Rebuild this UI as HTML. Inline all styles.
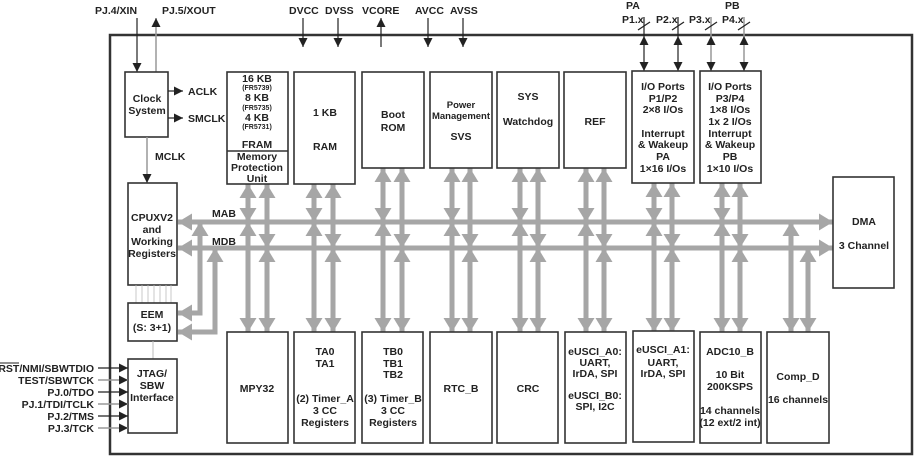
<!DOCTYPE html>
<html><head><meta charset="utf-8"><style>
html,body{margin:0;padding:0;background:#fff;}
svg{display:block;}
text{font-family:"Liberation Sans",Arial,sans-serif;font-weight:bold;font-size:10.5px;fill:#222;}
.s{font-size:7px;}
.c{text-anchor:middle;}
.r{text-anchor:end;}
.b{fill:#fff;stroke:#333;stroke-width:1.6;}
.g{stroke:#a6a6a6;stroke-width:5;fill:none;marker-start:url(#ga);marker-end:url(#ga);}
.k{stroke:#222;stroke-width:1.2;fill:none;}
.kg{stroke:#999;stroke-width:1.5;fill:none;}
</style></head><body>
<svg width="915" height="457" viewBox="0 0 915 457" xmlns="http://www.w3.org/2000/svg">
<defs>
<marker id="ga" markerUnits="userSpaceOnUse" markerWidth="15" markerHeight="18" refX="14" refY="9" orient="auto-start-reverse"><path d="M0,0.5 L14,9 L0,17.5 z" fill="#a6a6a6"/></marker>
<marker id="ka" markerUnits="userSpaceOnUse" markerWidth="10" markerHeight="10" refX="9" refY="5" orient="auto-start-reverse"><path d="M0,0.5 L9,5 L0,9.5 z" fill="#222"/></marker>
</defs>
<rect x="110" y="35" width="802" height="419" fill="none" stroke="#333" stroke-width="2.5"/>

<!-- top pins -->
<text x="95" y="14">PJ.4/XIN</text>
<text x="162" y="14">PJ.5/XOUT</text>
<line class="k" x1="137" y1="18" x2="137" y2="72" marker-end="url(#ka)"/>
<line class="kg" x1="156" y1="72" x2="156" y2="18" marker-end="url(#ka)"/>
<text x="289" y="14">DVCC</text><text x="325" y="14">DVSS</text><text x="362" y="14">VCORE</text><text x="415" y="14">AVCC</text><text x="450" y="14">AVSS</text>
<line class="k" x1="303" y1="18" x2="303" y2="47" marker-end="url(#ka)"/>
<line class="k" x1="338" y1="18" x2="338" y2="47" marker-end="url(#ka)"/>
<line class="k" x1="381" y1="47" x2="381" y2="18" marker-end="url(#ka)"/>
<line class="k" x1="428" y1="18" x2="428" y2="47" marker-end="url(#ka)"/>
<line class="k" x1="463" y1="18" x2="463" y2="47" marker-end="url(#ka)"/>
<text x="626" y="9">PA</text><text x="725" y="9">PB</text>
<text x="622" y="23">P1.x</text><text x="656" y="23">P2.x</text><text x="689" y="23">P3.x</text><text x="722" y="23">P4.x</text>
<line class="k" x1="644" y1="17" x2="644" y2="36"/><line class="k" x1="644" y1="36" x2="644" y2="71" marker-start="url(#ka)" marker-end="url(#ka)"/>
<line class="k" x1="678" y1="17" x2="678" y2="36"/><line class="k" x1="678" y1="36" x2="678" y2="71" marker-start="url(#ka)" marker-end="url(#ka)"/>
<line class="kg" x1="711" y1="17" x2="711" y2="36"/><line class="kg" x1="711" y1="36" x2="711" y2="71" marker-start="url(#ka)" marker-end="url(#ka)"/>
<line class="kg" x1="744" y1="17" x2="744" y2="36"/><line class="kg" x1="744" y1="36" x2="744" y2="71" marker-start="url(#ka)" marker-end="url(#ka)"/>
<g class="k"><line x1="638" y1="30" x2="650" y2="22"/><line x1="672" y1="30" x2="684" y2="22"/><line x1="705" y1="30" x2="717" y2="22"/><line x1="738" y1="30" x2="750" y2="22"/></g>

<!-- clock -->
<rect class="b" x="125" y="72" width="43" height="65"/>
<text class="c" x="147" y="102">Clock</text><text class="c" x="147" y="114">System</text>
<line class="k" x1="168" y1="91" x2="183" y2="91" marker-end="url(#ka)"/><text x="188" y="95">ACLK</text>
<line class="k" x1="168" y1="118" x2="183" y2="118" marker-end="url(#ka)"/><text x="188" y="122">SMCLK</text>
<line class="kg" x1="147" y1="137" x2="147" y2="183" marker-end="url(#ka)"/><text x="155" y="160">MCLK</text>

<!-- buses -->
<line class="g" x1="178" y1="222" x2="833" y2="222"/>
<line class="g" x1="178" y1="248" x2="833" y2="248"/>
<text x="212" y="217">MAB</text><text x="212" y="245">MDB</text>
<path class="g" d="M200,222 V313 H178"/>
<path class="g" d="M215,248 V332 H178"/>

<!-- vertical connectors -->
<g>
<line class="g" x1="248" y1="184" x2="248" y2="222"/><line class="g" x1="248" y1="222" x2="248" y2="332"/>
<line class="g" x1="267" y1="184" x2="267" y2="248"/><line class="g" x1="267" y1="248" x2="267" y2="332"/>
<line class="g" x1="314" y1="184" x2="314" y2="222"/><line class="g" x1="314" y1="222" x2="314" y2="332"/>
<line class="g" x1="333" y1="184" x2="333" y2="248"/><line class="g" x1="333" y1="248" x2="333" y2="332"/>
<line class="g" x1="383" y1="168" x2="383" y2="222"/><line class="g" x1="383" y1="222" x2="383" y2="332"/>
<line class="g" x1="402" y1="168" x2="402" y2="248"/><line class="g" x1="402" y1="248" x2="402" y2="332"/>
<line class="g" x1="452" y1="168" x2="452" y2="222"/><line class="g" x1="452" y1="222" x2="452" y2="332"/>
<line class="g" x1="470" y1="168" x2="470" y2="248"/><line class="g" x1="470" y1="248" x2="470" y2="332"/>
<line class="g" x1="520" y1="168" x2="520" y2="222"/><line class="g" x1="520" y1="222" x2="520" y2="332"/>
<line class="g" x1="538" y1="168" x2="538" y2="248"/><line class="g" x1="538" y1="248" x2="538" y2="332"/>
<line class="g" x1="586" y1="168" x2="586" y2="222"/><line class="g" x1="586" y1="222" x2="586" y2="332"/>
<line class="g" x1="604" y1="168" x2="604" y2="248"/><line class="g" x1="604" y1="248" x2="604" y2="332"/>
<line class="g" x1="654" y1="183" x2="654" y2="222"/><line class="g" x1="654" y1="222" x2="654" y2="332"/>
<line class="g" x1="672" y1="183" x2="672" y2="248"/><line class="g" x1="672" y1="248" x2="672" y2="332"/>
<line class="g" x1="722" y1="183" x2="722" y2="222"/><line class="g" x1="722" y1="222" x2="722" y2="332"/>
<line class="g" x1="740" y1="183" x2="740" y2="248"/><line class="g" x1="740" y1="248" x2="740" y2="332"/>
<line class="g" x1="791" y1="222" x2="791" y2="332"/>
<line class="g" x1="808" y1="248" x2="808" y2="332"/>
</g>

<!-- CPU / EEM / JTAG -->
<rect class="b" x="128" y="183" width="49" height="102"/>
<text class="c" x="152" y="221">CPUXV2</text><text class="c" x="152" y="233">and</text><text class="c" x="152" y="245">Working</text><text class="c" x="152" y="257">Registers</text>
<g stroke="#bbb" stroke-width="0.8"><line x1="136" y1="285" x2="136" y2="303"/><line x1="142" y1="285" x2="142" y2="303"/><line x1="148" y1="285" x2="148" y2="303"/><line x1="154" y1="285" x2="154" y2="303"/><line x1="160" y1="285" x2="160" y2="303"/><line x1="166" y1="285" x2="166" y2="303"/><line x1="171" y1="285" x2="171" y2="303"/></g>
<rect class="b" x="128" y="303" width="49" height="38"/>
<text class="c" x="152" y="318">EEM</text><text class="c" x="152" y="331">(S: 3+1)</text>
<line stroke="#bbb" x1="153" y1="341" x2="153" y2="359"/>
<rect class="b" x="128" y="359" width="49" height="74"/>
<text class="c" x="152" y="377">JTAG/</text><text class="c" x="152" y="389">SBW</text><text class="c" x="152" y="401">Interface</text>
<line class="k" x1="98" y1="368" x2="128" y2="368" marker-end="url(#ka)"/>
<line class="kg" x1="98" y1="380" x2="128" y2="380" marker-end="url(#ka)"/>
<line class="k" x1="98" y1="392" x2="128" y2="392" marker-end="url(#ka)"/>
<line class="kg" x1="98" y1="404" x2="128" y2="404" marker-end="url(#ka)"/>
<line class="k" x1="98" y1="416" x2="128" y2="416" marker-end="url(#ka)"/>
<line class="kg" x1="98" y1="428" x2="128" y2="428" marker-end="url(#ka)"/>
<text class="r" x="94" y="372">RST/NMI/SBWTDIO</text><line stroke="#222" x1="0" y1="363" x2="19" y2="363"/>
<text class="r" x="94" y="384">TEST/SBWTCK</text>
<text class="r" x="94" y="396">PJ.0/TDO</text>
<text class="r" x="94" y="408">PJ.1/TDI/TCLK</text>
<text class="r" x="94" y="420">PJ.2/TMS</text>
<text class="r" x="94" y="432">PJ.3/TCK</text>

<!-- top blocks -->
<rect class="b" x="227" y="72" width="61" height="112"/><line stroke="#333" stroke-width="1.6" x1="227" y1="151" x2="288" y2="151"/>
<text class="c" x="257" y="82">16 KB</text><text class="c s" x="257" y="90">(FR5739)</text>
<text class="c" x="257" y="101">8 KB</text><text class="c s" x="257" y="110">(FR5735)</text>
<text class="c" x="257" y="121">4 KB</text><text class="c s" x="257" y="129">(FR5731)</text>
<text class="c" x="257" y="148">FRAM</text>
<text class="c" x="257" y="160">Memory</text><text class="c" x="257" y="171">Protection</text><text class="c" x="257" y="182">Unit</text>
<rect class="b" x="294" y="72" width="61" height="112"/>
<text class="c" x="325" y="116">1 KB</text><text class="c" x="325" y="150">RAM</text>
<rect class="b" x="362" y="72" width="62" height="96"/>
<text class="c" x="393" y="118">Boot</text><text class="c" x="393" y="131">ROM</text>
<rect class="b" x="430" y="72" width="62" height="96"/>
<text class="c" x="461" y="108" style="font-size:9.5px">Power</text><text class="c" x="461" y="119" style="font-size:9.5px">Management</text><text class="c" x="461" y="140">SVS</text>
<rect class="b" x="497" y="72" width="62" height="96"/>
<text class="c" x="528" y="100">SYS</text><text class="c" x="528" y="125">Watchdog</text>
<rect class="b" x="564" y="72" width="62" height="96"/>
<text class="c" x="595" y="125">REF</text>
<rect class="b" x="632" y="71" width="62" height="112"/>
<text class="c" x="663" y="90">I/O Ports</text><text class="c" x="663" y="102">P1/P2</text><text class="c" x="663" y="113">2×8 I/Os</text>
<text class="c" x="663" y="137">Interrupt</text><text class="c" x="663" y="148">&amp; Wakeup</text><text class="c" x="663" y="160">PA</text><text class="c" x="663" y="172">1×16 I/Os</text>
<rect class="b" x="700" y="71" width="61" height="112"/>
<text class="c" x="730" y="90">I/O Ports</text><text class="c" x="730" y="102">P3/P4</text><text class="c" x="730" y="113">1×8 I/Os</text><text class="c" x="730" y="125">1x 2 I/Os</text>
<text class="c" x="730" y="137">Interrupt</text><text class="c" x="730" y="148">&amp; Wakeup</text><text class="c" x="730" y="160">PB</text><text class="c" x="730" y="172">1×10 I/Os</text>
<rect class="b" x="833" y="177" width="61" height="111"/>
<text class="c" x="864" y="225">DMA</text><text class="c" x="864" y="249">3 Channel</text>

<!-- bottom blocks -->
<rect class="b" x="227" y="332" width="61" height="111"/><text class="c" x="257" y="392">MPY32</text>
<rect class="b" x="294" y="332" width="61" height="111"/>
<text class="c" x="325" y="355">TA0</text><text class="c" x="325" y="367">TA1</text><text class="c" x="325" y="402">(2) Timer_A</text><text class="c" x="325" y="414">3 CC</text><text class="c" x="325" y="426">Registers</text>
<rect class="b" x="362" y="332" width="61" height="111"/>
<text class="c" x="393" y="355">TB0</text><text class="c" x="393" y="367">TB1</text><text class="c" x="393" y="378">TB2</text><text class="c" x="393" y="402">(3) Timer_B</text><text class="c" x="393" y="414">3 CC</text><text class="c" x="393" y="426">Registers</text>
<rect class="b" x="430" y="332" width="62" height="111"/><text class="c" x="461" y="392">RTC_B</text>
<rect class="b" x="497" y="332" width="61" height="111"/><text class="c" x="528" y="392">CRC</text>
<rect class="b" x="565" y="332" width="61" height="111"/>
<text class="c" x="595" y="355">eUSCI_A0:</text><text class="c" x="595" y="366">UART,</text><text class="c" x="595" y="377">IrDA, SPI</text><text class="c" x="595" y="399">eUSCI_B0:</text><text class="c" x="595" y="410">SPI, I2C</text>
<rect class="b" x="633" y="331" width="61" height="111"/>
<text class="c" x="663" y="353">eUSCI_A1:</text><text class="c" x="663" y="366">UART,</text><text class="c" x="663" y="377">IrDA, SPI</text>
<rect class="b" x="700" y="332" width="61" height="111"/>
<text class="c" x="730" y="355">ADC10_B</text><text class="c" x="730" y="378">10 Bit</text><text class="c" x="730" y="390">200KSPS</text><text class="c" x="730" y="414">14 channels</text><text class="c" x="730" y="426">(12 ext/2 int)</text>
<rect class="b" x="767" y="332" width="62" height="111"/>
<text class="c" x="798" y="380">Comp_D</text><text class="c" x="798" y="403">16 channels</text>
</svg>
</body></html>
